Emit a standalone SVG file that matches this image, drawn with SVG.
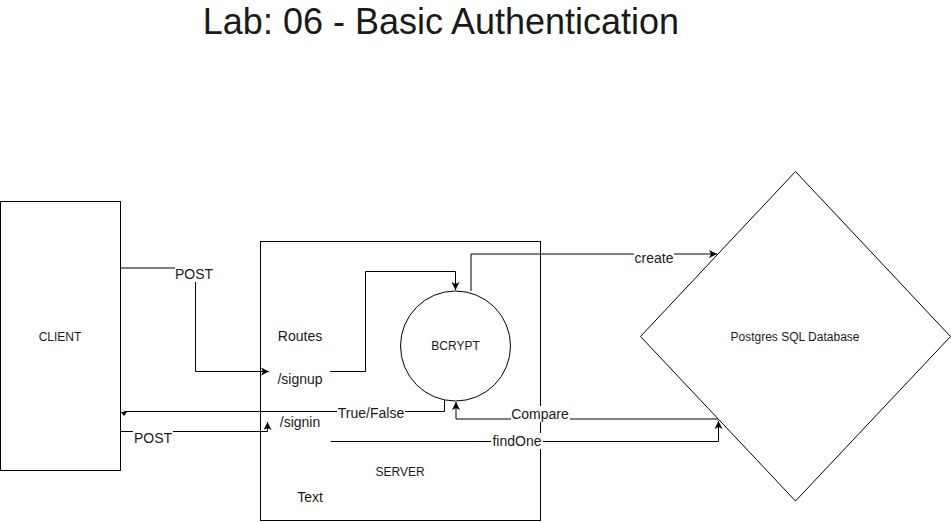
<svg xmlns="http://www.w3.org/2000/svg" width="951" height="522" viewBox="0 0 951 522">
<defs>
<marker id="arr" markerUnits="userSpaceOnUse" markerWidth="10" markerHeight="10" refX="8" refY="4" orient="auto">
<path d="M0,0 L8,4 L0,8 L2,4 z" fill="#000"/>
</marker>
<style>
.t{font-family:"Liberation Sans",Arial,sans-serif;fill:#1a1a1a;text-anchor:middle}
.n{fill:#fff;stroke:#000;stroke-width:1}
.c{fill:none;stroke:#000;stroke-width:1}
.g{fill:none;stroke:#000;stroke-width:1}
.lb{fill:#fff}
</style>
</defs>
<rect width="951" height="522" fill="#fff"/>
<text class="t" x="441" y="34" font-size="36">Lab: 06 - Basic Authentication</text>

<g id="client">
<rect class="n" x="0.5" y="201.5" width="120" height="269"/>
<text class="t" x="60" y="341" font-size="12">CLIENT</text>
</g>

<g id="server">
<rect class="n" x="260.5" y="241.5" width="280" height="279"/>
<text class="t" x="400" y="476" font-size="12">SERVER</text>
<text class="t" x="300" y="341" font-size="14">Routes</text>
<text class="t" x="300" y="384" font-size="14">/signup</text>
<text class="t" x="300" y="427" font-size="14">/signin</text>
<text class="t" x="310" y="502" font-size="14">Text</text>
</g>

<g id="bcrypt">
<circle class="n" cx="455.5" cy="346" r="55"/>
<text class="t" x="455.5" y="350" font-size="12">BCRYPT</text>
</g>

<g id="database">
<polygon class="n" points="795.5,171.5 950.5,336.5 795.5,501 640.5,336.5"/>
<text class="t" x="795" y="341" font-size="12">Postgres SQL Database</text>
</g>

<g id="connectors">
<path class="g" d="M121,268 H195.5 V371.5 H269" marker-end="url(#arr)"/>
<rect class="lb" x="175" y="266" width="39" height="16"/>
<text class="t" x="194" y="279" font-size="14">POST</text>

<path class="c" d="M330,371.5 H365.5 V271.5 H455.5 V290" marker-end="url(#arr)"/>

<path class="g" d="M471,291 V254 H717" marker-end="url(#arr)"/>
<rect class="lb" x="634" y="250" width="40" height="16"/>
<text class="t" x="654" y="263" font-size="14">create</text>

<path class="c" d="M444.5,400 V411.5 H124"/>
<polygon points="121,412 127,412 124,416" fill="#000"/>
<rect class="lb" x="337" y="405" width="68" height="16"/>
<text class="t" x="371" y="418" font-size="14">True/False</text>

<path class="c" d="M121,431.5 H267.5 V422" marker-end="url(#arr)"/>
<rect class="lb" x="133" y="430" width="40" height="16"/>
<text class="t" x="153" y="443" font-size="14">POST</text>

<path class="g" d="M718,419 H456 V402" marker-end="url(#arr)"/>
<rect class="lb" x="511" y="406" width="59" height="16"/>
<text class="t" x="540" y="419" font-size="14">Compare</text>

<path class="c" d="M330.5,441.5 H718.5 V421" marker-end="url(#arr)"/>
<rect class="lb" x="491" y="433" width="52" height="16"/>
<text class="t" x="517" y="446" font-size="14">findOne</text>
</g>
</svg>
